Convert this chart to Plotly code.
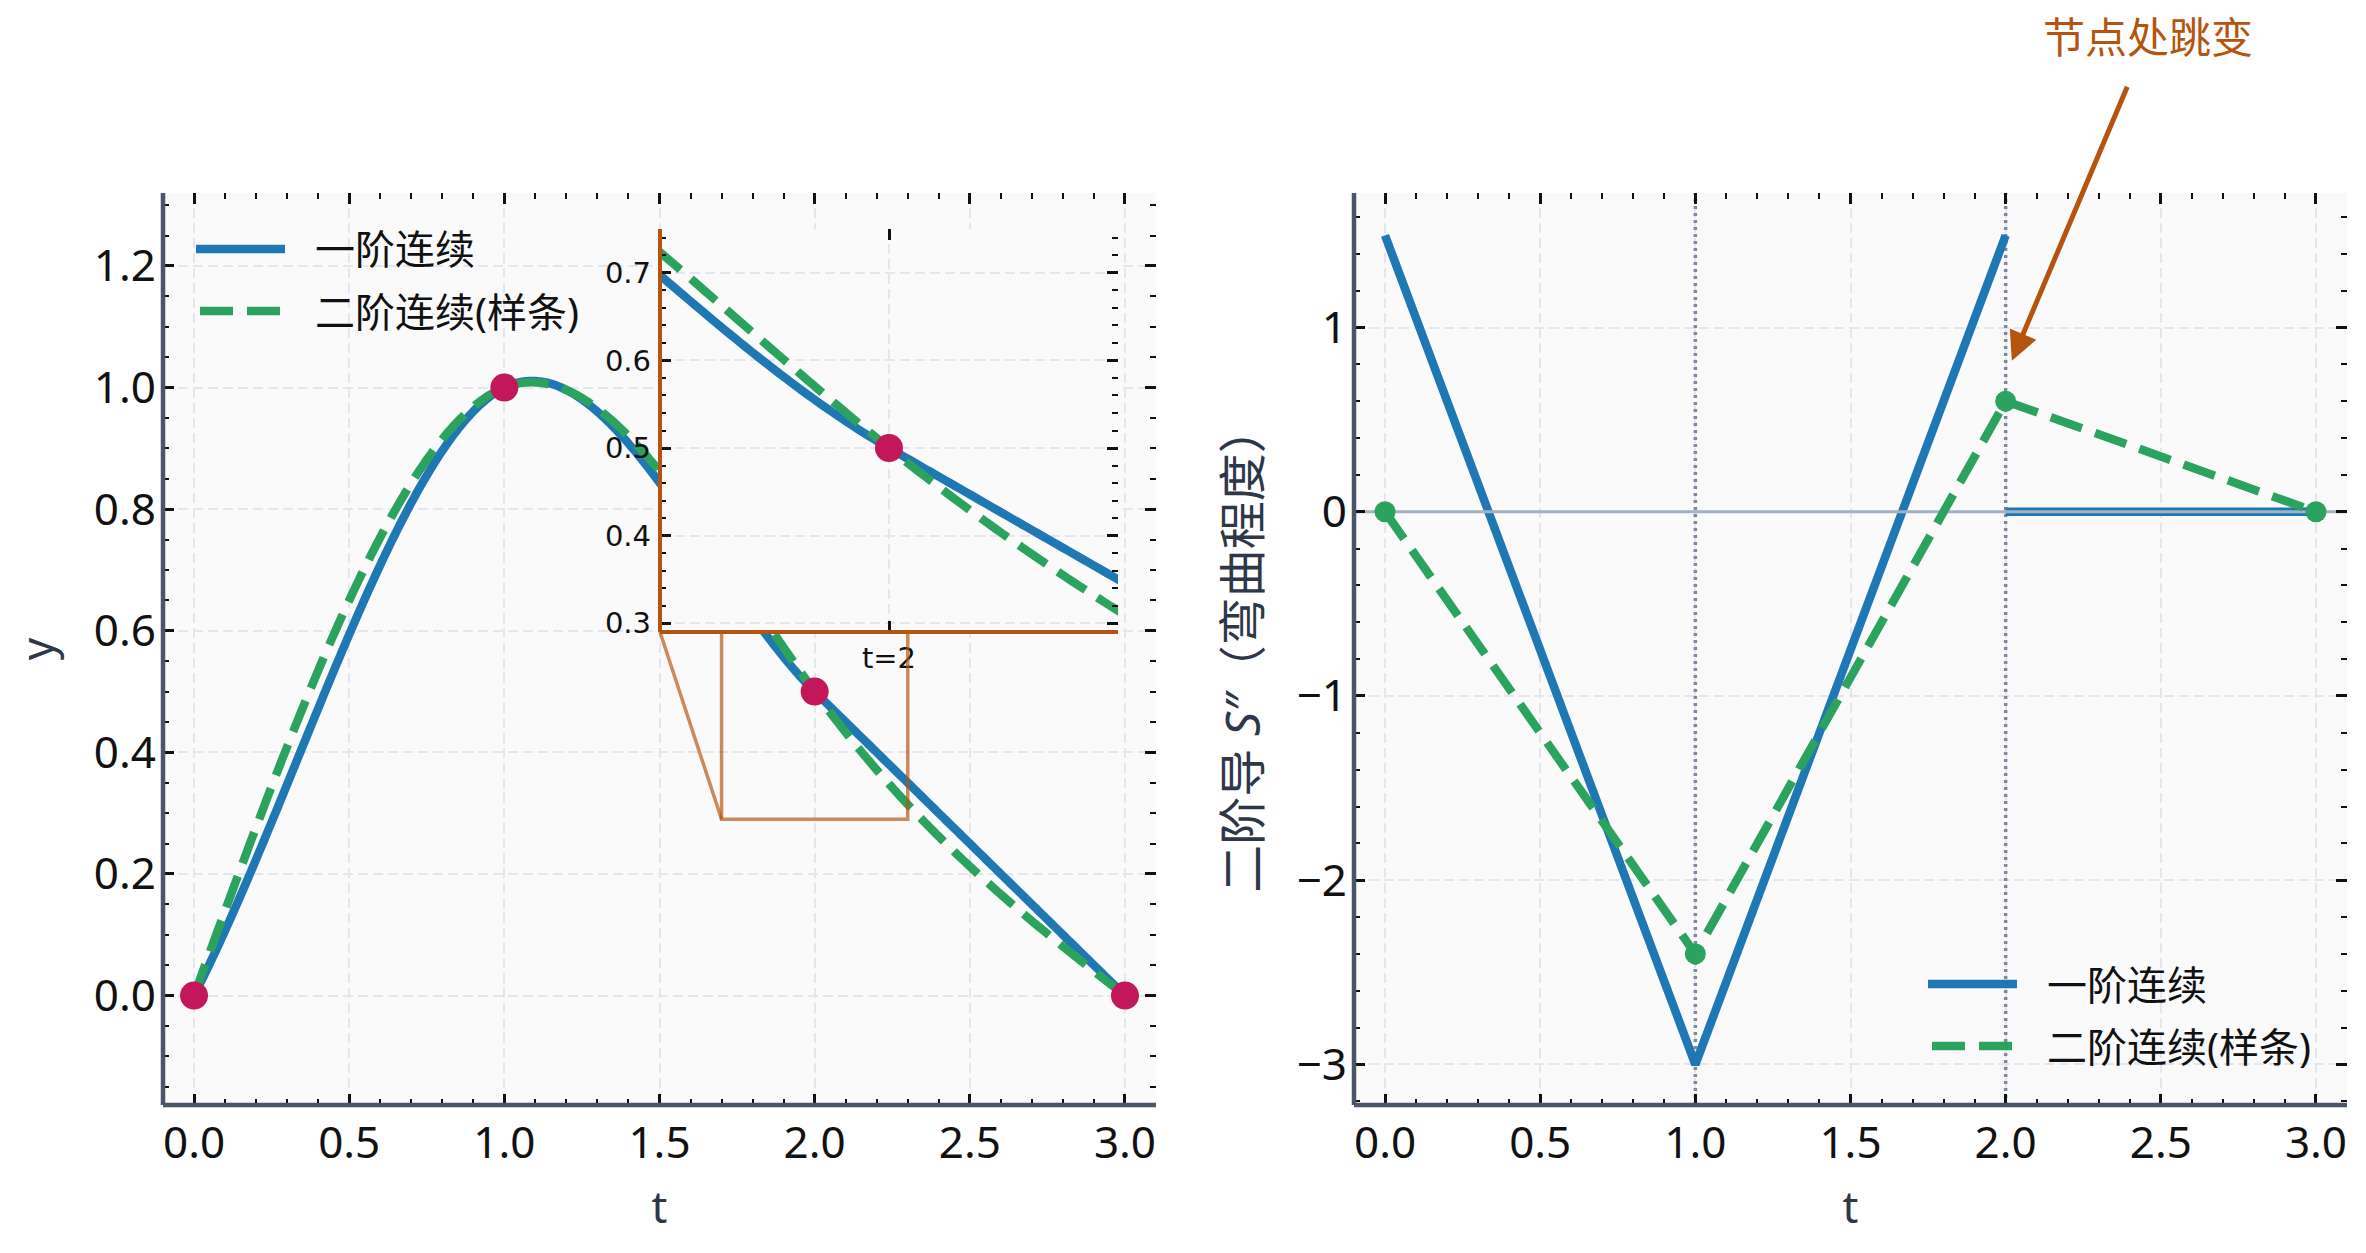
import numpy as np
import plotly.graph_objects as go

# ---------------- data ----------------
knot_t = [0.0, 1.0, 2.0, 3.0]
knot_y = [0.0, 1.0, 0.5, 0.0]
c1_tangent = [1.0, 0.25, -0.5, -0.5]      # slopes of the C1 (blue) curve at the knots
spline_d2 = [0.0, -2.4, 0.6, 0.0]         # S'' of the natural spline (green) at the knots
c1_d2_start = [1.5, -3.0, 0.0]            # S'' of the C1 curve at the start of each segment
c1_d2_end = [-3.0, 1.5, 0.0]              # S'' of the C1 curve at the end of each segment
series_names = ["一阶连续", "二阶连续(样条)"]
zoom_t = [1.7, 2.3]
zoom_y = [0.29, 0.75]
inset_tick_label = "t=2"
annotation_text = "节点处跳变"

# ---------------- curves from the knot data ----------------
def hermite_curve(t, y, m, n=150):
    xs, ys = [], []
    for i in range(len(t) - 1):
        h = t[i + 1] - t[i]
        s = np.linspace(0, 1, n)
        h00 = 2 * s**3 - 3 * s**2 + 1
        h10 = s**3 - 2 * s**2 + s
        h01 = -2 * s**3 + 3 * s**2
        h11 = s**3 - s**2
        xs.append(t[i] + s * h)
        ys.append(h00 * y[i] + h10 * h * m[i] + h01 * y[i + 1] + h11 * h * m[i + 1])
    return np.concatenate(xs), np.concatenate(ys)


def moment_spline(t, y, M, n=150):
    xs, ys = [], []
    for i in range(len(t) - 1):
        h = t[i + 1] - t[i]
        x = np.linspace(t[i], t[i + 1], n)
        a = t[i + 1] - x
        b = x - t[i]
        s = (M[i] * a**3 / (6 * h) + M[i + 1] * b**3 / (6 * h)
             + (y[i] / h - M[i] * h / 6) * a + (y[i + 1] / h - M[i + 1] * h / 6) * b)
        xs.append(x)
        ys.append(s)
    return np.concatenate(xs), np.concatenate(ys)


c1_x, c1_y = hermite_curve(knot_t, knot_y, c1_tangent)
sp_x, sp_y = moment_spline(knot_t, knot_y, spline_d2)

# piecewise-linear S'' of the C1 curve (break where it jumps)
d2_x, d2_y = [knot_t[0]], [c1_d2_start[0]]
for i in range(len(c1_d2_start)):
    if i > 0 and c1_d2_start[i] != c1_d2_end[i - 1]:
        d2_x.append(None)
        d2_y.append(None)
        d2_x.append(knot_t[i])
        d2_y.append(c1_d2_start[i])
    d2_x.append(knot_t[i + 1])
    d2_y.append(c1_d2_end[i])

# ---------------- styling ----------------
W, H = 2366, 1253
FONT = "Noto Sans, Noto Sans CJK SC, sans-serif"
INSET_FONT = "DejaVu Sans, sans-serif"
BLUE = "#1f77b4"
GREEN = "#2ca25f"
KNOT = "#c2185b"
ORANGE = "#b5540f"
GRID = "#e3e6ef"
SPINE = "#4a5568"
TITLE_C = "#2d3748"
TICK_C = "#111111"
LW = 8.5
DASH = "33px,14px"

x_range = [-0.1, 3.1]
y1_range = [-0.18, 1.32]
y2_range = [-3.22, 1.73]

ML, MR, MT, MB = 163, 19, 193, 148
PW, PH = W - ML - MR, H - MT - MB
dom_left = [0.0, (1156 - ML) / PW]
dom_right = [(1354 - ML) / PW, 1.0]
dom_inset_x = [(660 - ML) / PW, (1118 - ML) / PW]
dom_inset_y = [(H - MB - 632) / PH, (H - MB - 229) / PH]


def px(xp):
    return (xp - ML) / PW


def py(yp):
    return (H - MB - yp) / PH


def axis(**kw):
    d = dict(showline=False, mirror="ticks", ticks="inside", ticklen=11, tickwidth=2.5,
             tickcolor=TICK_C, showgrid=True, gridcolor=GRID, gridwidth=2,
             griddash="10px,5px", zeroline=False, automargin=False,
             tickfont=dict(family=FONT, size=44, color=TICK_C),
             title_font=dict(family=FONT, size=44, color=TITLE_C))
    d.update(kw)
    return d


MINOR = dict(ticks="inside", ticklen=6, tickwidth=2, tickcolor=TICK_C, showgrid=False)


def curve_line(color, dash=None):
    d = dict(color=color, width=LW, simplify=False)
    if dash:
        d["dash"] = dash
    return d


fig = go.Figure()

# ---- left panel ----
fig.add_trace(go.Scatter(x=c1_x, y=c1_y, mode="lines", name=series_names[0], showlegend=False,
                         line=curve_line(BLUE), xaxis="x", yaxis="y"))
fig.add_trace(go.Scatter(x=sp_x, y=sp_y, mode="lines", name=series_names[1], showlegend=False,
                         line=curve_line(GREEN, DASH), xaxis="x", yaxis="y"))
fig.add_trace(go.Scatter(x=knot_t, y=knot_y, mode="markers", showlegend=False,
                         marker=dict(color=KNOT, size=28), xaxis="x", yaxis="y"))

# ---- inset ----
fig.add_trace(go.Scatter(x=c1_x, y=c1_y, mode="lines", showlegend=False,
                         line=curve_line(BLUE), xaxis="x3", yaxis="y3"))
fig.add_trace(go.Scatter(x=sp_x, y=sp_y, mode="lines", showlegend=False,
                         line=curve_line(GREEN, DASH), xaxis="x3", yaxis="y3"))
fig.add_trace(go.Scatter(x=knot_t, y=knot_y, mode="markers", showlegend=False,
                         marker=dict(color=KNOT, size=28), xaxis="x3", yaxis="y3"))

# ---- right panel ----
guide_x, guide_y = [], []
for kt in knot_t[1:3]:
    guide_x += [kt, kt, None]
    guide_y += [y2_range[0], y2_range[1], None]
fig.add_trace(go.Scatter(x=guide_x, y=guide_y, mode="lines", showlegend=False, hoverinfo="skip",
                         line=dict(color="#7f899b", width=3.5, dash="3px,4px"),
                         xaxis="x2", yaxis="y2"))
fig.add_trace(go.Scatter(x=d2_x, y=d2_y, mode="lines", name=series_names[0], showlegend=False,
                         line=curve_line(BLUE), xaxis="x2", yaxis="y2"))
fig.add_trace(go.Scatter(x=x_range, y=[0, 0], mode="lines", showlegend=False, hoverinfo="skip",
                         line=dict(color="#a3b1c4", width=3), xaxis="x2", yaxis="y2"))
fig.add_trace(go.Scatter(x=knot_t, y=spline_d2, mode="lines", name=series_names[1], showlegend=False,
                         line=curve_line(GREEN, DASH), xaxis="x2", yaxis="y2"))
fig.add_trace(go.Scatter(x=knot_t, y=spline_d2, mode="markers", showlegend=False,
                         marker=dict(color=GREEN, size=21), xaxis="x2", yaxis="y2"))

shapes = []
annotations = []
# spines
for xr, yr in (("x domain", "y domain"), ("x2 domain", "y2 domain")):
    shapes.append(dict(type="line", xref=xr, yref=yr, x0=0, x1=0, y0=0, y1=1,
                       line=dict(color=SPINE, width=4.5), layer="above"))
    shapes.append(dict(type="line", xref=xr, yref=yr, x0=0, x1=1, y0=0, y1=0,
                       line=dict(color=SPINE, width=4.5), layer="above"))
# zoom indicator (visible part below the inset) + connector
inset_left_data = x_range[0] + (dom_inset_x[0] - dom_left[0]) / (dom_left[1] - dom_left[0]) * (x_range[1] - x_range[0])
inset_bottom_data = y1_range[0] + dom_inset_y[0] * (y1_range[1] - y1_range[0])
ZC = "rgba(181,84,15,0.68)"
shapes.append(dict(type="path", xref="x", yref="y",
                   path=f"M {zoom_t[0]},{inset_bottom_data} L {zoom_t[0]},{zoom_y[0]} "
                        f"L {zoom_t[1]},{zoom_y[0]} L {zoom_t[1]},{inset_bottom_data}",
                   line=dict(color=ZC, width=3.5), layer="above"))
shapes.append(dict(type="line", xref="x", yref="y", x0=inset_left_data, y0=inset_bottom_data,
                   x1=zoom_t[0], y1=zoom_y[0], line=dict(color=ZC, width=3.5), layer="above"))
# inset spines
shapes.append(dict(type="line", xref="x3 domain", yref="y3 domain", x0=0, x1=0, y0=0, y1=1,
                   line=dict(color=ORANGE, width=4), layer="above"))
shapes.append(dict(type="line", xref="x3 domain", yref="y3 domain", x0=0, x1=1, y0=0, y1=0,
                   line=dict(color=ORANGE, width=4), layer="above"))

# legends (drawn as keys + text, matplotlib-style long keys)
legend_boxes = [
    dict(x0=196, x1=285, xg0=200, xg1=281, rows=(249, 311), text_x=313),
    dict(x0=1928, x1=2017, xg0=1932, xg1=2013, rows=(984, 1046), text_x=2045),
]
for lb in legend_boxes:
    r1, r2 = lb["rows"]
    shapes.append(dict(type="line", xref="paper", yref="paper", x0=px(lb["x0"]), x1=px(lb["x1"]),
                       y0=py(r1), y1=py(r1), line=dict(color=BLUE, width=LW), layer="above"))
    shapes.append(dict(type="line", xref="paper", yref="paper", x0=px(lb["xg0"]), x1=px(lb["xg1"]),
                       y0=py(r2), y1=py(r2), line=dict(color=GREEN, width=LW, dash=DASH),
                       layer="above"))
    for name, r in zip(series_names, (r1, r2)):
        annotations.append(dict(xref="paper", yref="paper", x=px(lb["text_x"]), y=py(r),
                                xanchor="left", yanchor="middle", showarrow=False, text=name,
                                font=dict(family=FONT, size=40, color=TICK_C)))

annotations.append(dict(x=2.02, y=0.82, xref="x2", yref="y2", ax=2.46, ay=2.58, axref="x2",
                        ayref="y2", text=annotation_text, showarrow=True, arrowhead=2,
                        arrowsize=1.15, arrowwidth=5, arrowcolor=ORANGE, startstandoff=22,
                        standoff=0, font=dict(family=FONT, size=42, color=ORANGE)))

fig.update_layout(
    width=W, height=H,
    margin=dict(l=ML, r=MR, t=MT, b=MB),
    paper_bgcolor="white",
    plot_bgcolor="#fafafb",
    font=dict(family=FONT, size=44, color=TICK_C),
    showlegend=False,
    xaxis=axis(domain=dom_left, anchor="y", range=x_range, dtick=0.5, tick0=0, tickformat=".1f",
               ticklabelstandoff=8, minor=dict(dtick=0.1, **MINOR),
               title=dict(text="t", standoff=22)),
    yaxis=axis(domain=[0, 1], anchor="x", range=y1_range, dtick=0.2, tick0=0, tickformat=".1f",
               ticklabelstandoff=6, minor=dict(dtick=0.05, **MINOR),
               title=dict(text="y", standoff=26)),
    xaxis2=axis(domain=dom_right, anchor="y2", range=x_range, dtick=0.5, tick0=0, tickformat=".1f",
                ticklabelstandoff=8, minor=dict(dtick=0.1, **MINOR),
                title=dict(text="t", standoff=22)),
    yaxis2=axis(domain=[0, 1], anchor="x2", range=y2_range, dtick=1, tick0=0,
                ticklabelstandoff=6, minor=dict(dtick=0.2, **MINOR),
                title=dict(text="二阶导 <i>S″</i>（弯曲程度）", standoff=20,
                           font=dict(family=FONT, size=48, color=TITLE_C))),
    xaxis3=axis(domain=dom_inset_x, anchor="y3", range=zoom_t, tickvals=[knot_t[2]],
                ticktext=[inset_tick_label], ticklabelstandoff=6,
                tickfont=dict(family=INSET_FONT, size=29, color=TICK_C)),
    yaxis3=axis(domain=dom_inset_y, anchor="x3", range=zoom_y, dtick=0.1, tick0=0.3, tickformat=".1f",
                ticklabelstandoff=8, tickfont=dict(family=INSET_FONT, size=29, color=TICK_C),
                minor=dict(dtick=0.02, **MINOR)),
    shapes=shapes,
    annotations=annotations,
)

fig.write_html("out.html")
